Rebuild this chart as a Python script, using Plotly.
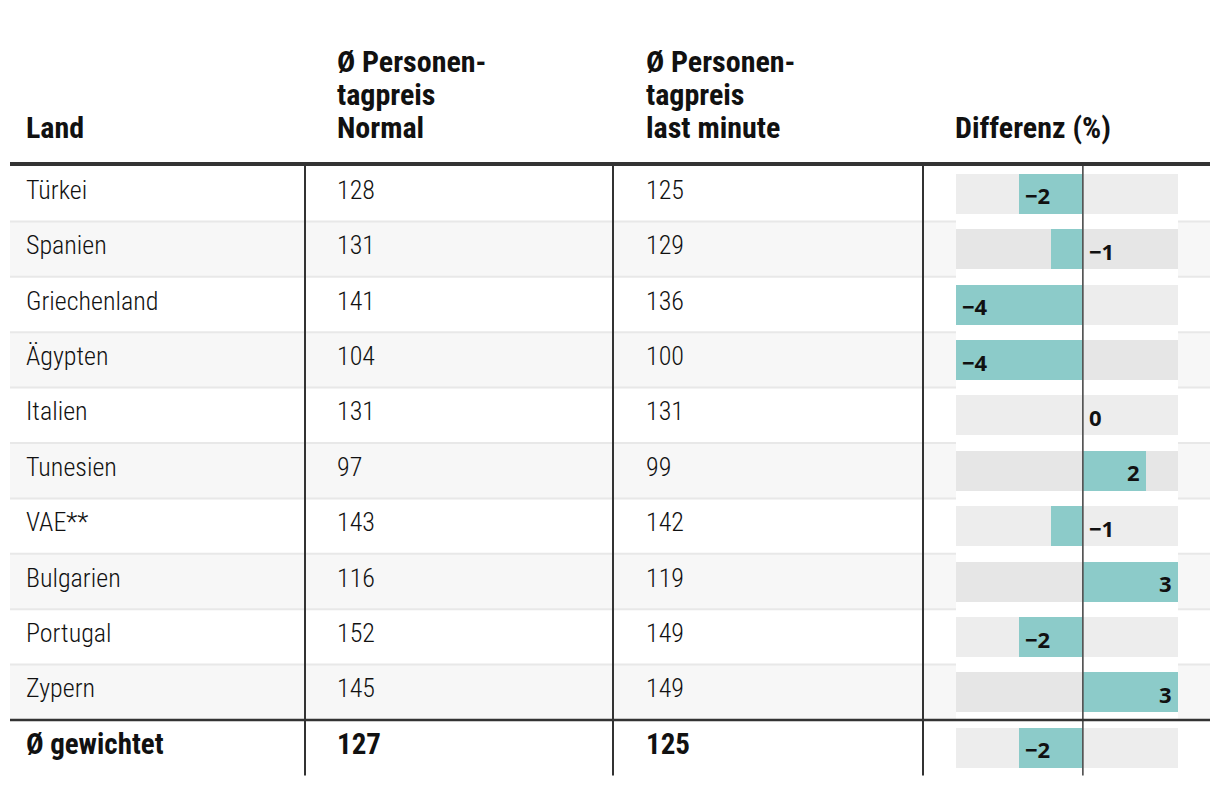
import plotly.graph_objects as go

laender = ["Türkei", "Spanien", "Griechenland", "Ägypten", "Italien", "Tunesien",
           "VAE**", "Bulgarien", "Portugal", "Zypern", "Ø gewichtet"]
preis_normal = [128, 131, 141, 104, 131, 97, 143, 116, 152, 145, 127]
preis_lastminute = [125, 129, 136, 100, 131, 99, 142, 119, 149, 149, 125]
differenz = [-2, -1, -4, -4, 0, 2, -1, 3, -2, 3, -2]

kopf = ["Land", "Ø Personen-<br>tagpreis<br>Normal",
        "Ø Personen-<br>tagpreis<br>last minute", "Differenz (%)"]

# layout constants (pixels)
W, H = 1220, 788
TOP = 166          # bottom of header rule
ROW_H = 55.4
COL_X = [27, 338, 647, 956]
VLINES = [305, 613, 923]
DIFF_MIN, DIFF_MAX = -4, 3
BAR_L, BAR_R = 956, 1178

BODY = "Roboto Condensed, DejaVu Sans Condensed, sans-serif"
LABEL = "Open Sans, Noto Sans, sans-serif"
INK = "#111111"
TEAL = "#8ccbc9"


def py(px):
    # pixel row -> y data units
    return (px - TOP) / ROW_H - 0.5


n = len(laender)
rows = list(range(n))
last = n - 1

fig = go.Figure()

track_col = ["#e6e6e6" if (i % 2 == 1 and i < last) else "#ededed" for i in rows]
fig.add_trace(go.Bar(
    x=[DIFF_MAX - DIFF_MIN] * n, base=[DIFF_MIN] * n, y=rows,
    orientation="h", width=40 / ROW_H,
    marker=dict(color=track_col, line_width=0),
    xaxis="x2", yaxis="y", hoverinfo="skip", showlegend=False,
))
fig.add_trace(go.Bar(
    x=differenz, y=rows, orientation="h", width=40 / ROW_H,
    marker=dict(color=TEAL, line_width=0),
    xaxis="x2", yaxis="y", showlegend=False,
))

shapes = []
# zebra rows
for i in rows:
    if i % 2 == 1 and i < last:
        shapes.append(dict(type="rect", xref="x", yref="y", x0=10, x1=1210,
                           y0=i - 0.5, y1=i + 0.5, fillcolor="#f7f7f7",
                           line_width=0, layer="below"))
# thin row separators
for i in range(last - 1):
    shapes.append(dict(type="line", xref="x", yref="y", x0=10, x1=1210,
                       y0=i + 0.5, y1=i + 0.5,
                       line=dict(color="#e8e8e8", width=2), layer="below"))
# vertical column rules
for vx in VLINES:
    shapes.append(dict(type="line", xref="x", yref="y", x0=vx, x1=vx,
                       y0=-0.5, y1=last + 0.5, line=dict(color="#333333", width=2)))
# zero line in the difference column
shapes.append(dict(type="line", xref="x2", yref="y", x0=0, x1=0,
                   y0=-0.5, y1=last + 0.5, line=dict(color="#555555", width=1.7)))
# header rule and total rule
shapes.append(dict(type="line", xref="x", yref="y", x0=10, x1=1210,
                   y0=py(TOP - 2), y1=py(TOP - 2), line=dict(color="#333333", width=4)))
shapes.append(dict(type="line", xref="x", yref="y", x0=10, x1=1210,
                   y0=last - 0.5, y1=last - 0.5, line=dict(color="#333333", width=2.5)))

ann = []
# header
head_lines = [126, 93, 60]  # cap centres from bottom line upwards
for cx, txt in zip(COL_X, kopf):
    lines = txt.split("<br>")[::-1]
    for k, line in enumerate(lines):
        ann.append(dict(xref="x", yref="y", x=cx - 3, y=py(head_lines[k] + 1),
                        text=line, showarrow=False, xanchor="left", yanchor="middle",
                        font=dict(family=BODY, size=30, color=INK, weight="bold")))

# body cells
for i in rows:
    is_total = i == last
    for cx, val in zip(COL_X[:3], [laender[i], preis_normal[i], preis_lastminute[i]]):
        ann.append(dict(xref="x", yref="y", x=cx - 3, y=i - 0.07, text=str(val),
                        showarrow=False, xanchor="left", yanchor="middle",
                        font=dict(family=BODY, size=29 if is_total else 26, color=INK,
                                  weight="bold" if is_total else 300)))
    v = differenz[i]
    lab = str(v).replace("-", "\u2212")
    if v <= -2:
        x, xa, xs = v, "left", 4
    elif v <= 0:
        x, xa, xs = 0, "left", 4
    else:
        x, xa, xs = v, "right", -4
    ann.append(dict(xref="x2", yref="y", x=x, y=i + 0.03, text=lab, showarrow=False,
                    xanchor=xa, xshift=xs, yanchor="middle",
                    font=dict(family=LABEL, size=22, color=INK, weight="bold")))

fig.update_layout(
    width=W, height=H,
    margin=dict(l=0, r=0, t=0, b=0),
    paper_bgcolor="white", plot_bgcolor="white",
    barmode="overlay", bargap=0,
    showlegend=False,
    xaxis=dict(range=[0, W], domain=[0, 1], visible=False, fixedrange=True),
    xaxis2=dict(range=[DIFF_MIN, DIFF_MAX], domain=[BAR_L / W, BAR_R / W],
                anchor="y", visible=False, fixedrange=True),
    yaxis=dict(range=[py(H), py(0)], domain=[0, 1], visible=False, fixedrange=True),
    shapes=shapes,
    annotations=ann,
)

fig.write_html("out.html", config={"displayModeBar": False},
               post_script="document.body.style.margin='0';document.body.style.overflow='hidden';")
